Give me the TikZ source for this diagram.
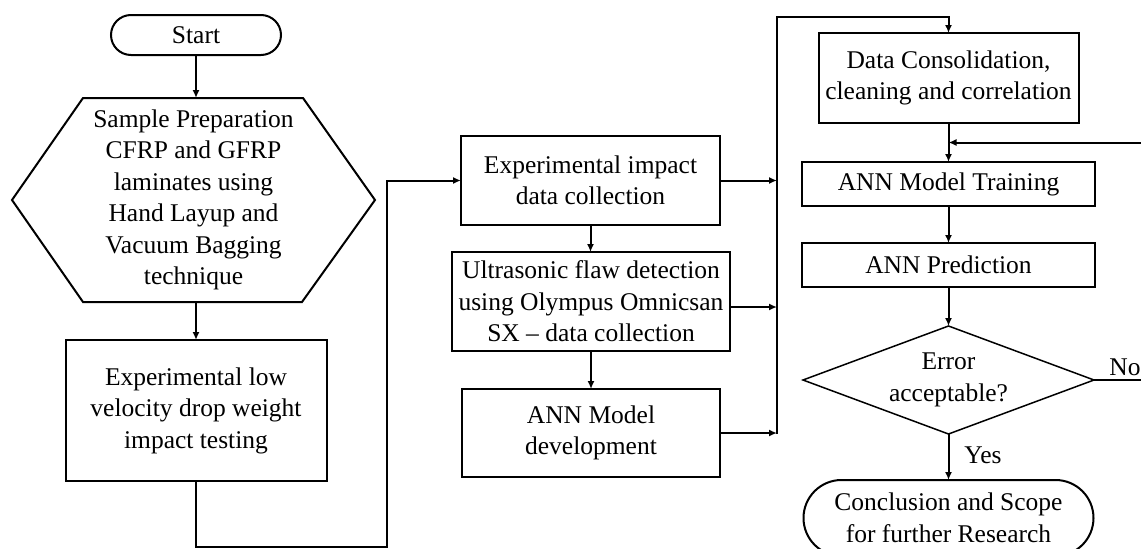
\documentclass[tikz,border=0pt]{standalone}
\usepackage{fontspec}
\setmainfont{Liberation Serif}
\usetikzlibrary{shapes.misc,shapes.geometric,arrows.meta,calc}
\begin{document}
\begin{tikzpicture}[x=1pt,y=-1pt,
  font=\fontsize{25.5}{31.5}\selectfont,
  every node/.style={inner sep=0pt, outer sep=0pt, align=center},
  box/.style={draw, line width=2pt, rectangle},
  term/.style={draw, line width=2pt, rounded rectangle},
  arr/.style={line width=2pt, -{Latex[length=8pt,width=7pt]}},
  ln/.style={line width=2pt}]
\useasboundingbox (0,0) rectangle (1141,549);

\node[term, minimum width=170pt, minimum height=40pt] (start) at (196,35) {Start};
\node[minimum width=363pt, minimum height=204pt] (prep) at (193.5,200)
  {Sample Preparation\\CFRP and GFRP\\laminates using\\Hand Layup and\\Vacuum Bagging\\technique};
\draw[line width=2pt] (prep.west) -- ([xshift=71pt]prep.north west) -- ([xshift=-72pt]prep.north east)
  -- (prep.east) -- ([xshift=-73pt]prep.south east) -- ([xshift=71pt]prep.south west) -- cycle;
\node[box, minimum width=261pt, minimum height=141pt] (test) at (196,410.5)
  {Experimental low\\velocity drop weight\\impact testing};

\node[box, minimum width=259pt, minimum height=89pt] (impact) at (590.5,180.5)
  {Experimental impact\\data collection};
\node[box, minimum width=278pt, minimum height=99pt] (ultra) at (591,301.5)
  {Ultrasonic flaw detection\\using Olympus Omnicsan\\SX – data collection};
\node[box, minimum width=258pt, minimum height=88pt] (anndev) at (591,433)
  {ANN Model\\development};

\node[box, minimum width=260pt, minimum height=90pt] (consol) at (948.5,78)
  {Data Consolidation,\\cleaning and correlation};
\node[box, minimum width=293pt, minimum height=44pt] (train) at (948.5,184) {ANN Model Training};
\node[box, minimum width=293pt, minimum height=44pt] (pred) at (948.5,265) {ANN Prediction};
\node[minimum width=291pt, minimum height=108pt] (dec) at (948.5,380) {Error\\acceptable?};
\draw[line width=1.5pt, line join=miter] (dec.north) -- (dec.east) -- (dec.south) -- (dec.west) -- cycle;
\node[term, minimum width=290pt, minimum height=76pt] (concl) at (948.5,518)
  {Conclusion and Scope\\for further Research};
\node (yes) at (983,455) {Yes};
\node (no) at (1125,367) {No};

\draw[arr] (start.south) -- (start.south |- prep.north);
\draw[arr] (test.north |- prep.south) -- (test.north);
\coordinate (c1) at (387,547);
\draw[arr] (test.south) |- (c1) |- (impact.west);
\draw[arr] (impact.south) -- (impact.south |- ultra.north);
\draw[arr] (ultra.south) -- (ultra.south |- anndev.north);

\coordinate (bt) at (777,17);
\coordinate (bb) at (777,434);
\draw[arr] (bb) -- (bt) -| (consol.north);
\draw[arr] (impact.east) -- (impact.east -| bt);
\draw[arr] ([yshift=-5.5pt]ultra.east) -- ([yshift=-5.5pt]ultra.east -| bt);
\draw[arr] (anndev.east) -- (anndev.east -| bt);

\draw[arr] (consol.south) -- (train.north);
\draw[arr] (train.south) -- (pred.north);
\draw[arr] (pred.south) -- (dec.north);
\draw[arr] (dec.south) -- (concl.north);
\coordinate (jn) at ($(consol.south)!0.5!(train.north)$);
\coordinate (fb) at (1150,380);
\draw[arr] (dec.east) -- (fb) |- (jn);
\end{tikzpicture}
\end{document}
